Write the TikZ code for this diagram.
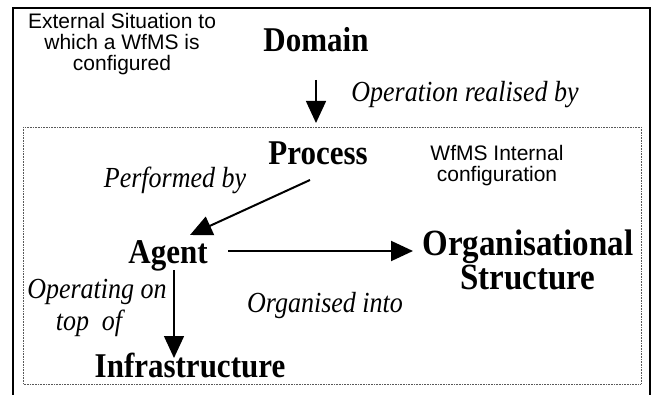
\documentclass[tikz,border=0pt]{standalone}
\usepackage{fontspec}
\usepackage{graphicx}
\setmainfont{Liberation Serif}
\newfontfamily\arialfont{Liberation Sans}
\usetikzlibrary{arrows.meta}
\newcommand{\vstretch}[1]{\scalebox{1}[1.12]{#1}}
\begin{document}
\begin{tikzpicture}[x=1pt,y=1pt,
  title/.style={font=\fontsize{31}{34}\selectfont\bfseries, inner sep=0pt, anchor=base},
  lbl/.style={font=\fontsize{26}{32}\selectfont\itshape, inner sep=0pt, anchor=base},
  note/.style={font=\arialfont\fontsize{21}{21}\selectfont, inner sep=0pt, align=center},
  arr/.style={line width=1.5pt, -{Triangle[width=20pt,length=22pt]}},
  frame/.style={line width=2pt, black},
  dotbox/.style={line width=0.8pt, draw=black!65, dash pattern=on 0.8pt off 0.8pt}
]
\useasboundingbox (0,0) rectangle (653,394);
% outer frame (open at the bottom, continues below the picture)
\draw[frame] (13,-10) -- (13,386) -- (650,386) -- (650,-10);
% inner dotted box
\draw[dotbox] (23,267) rectangle (641,10);

% texts
\node[note] (ext) at (122,350) {External Situation to\\which a WfMS is\\configured};
\node[title] (dom) at (316,342) {\vstretch{Domain}};
\node[lbl] (oper) at (465,292) {\vstretch{Operation realised by}};
\node[title] (proc) at (318,229) {\vstretch{Process}};
\node[note] (wfms) at (497,228) {WfMS Internal\\configuration};
\node[lbl] (perf) at (175,207) {\vstretch{Performed by}};
\node[title] (agent) at (168,131) {\vstretch{Agent}};
\node[title, anchor=center, align=center, font=\fontsize{33}{34}\selectfont\bfseries] (org) at (528,134) {\vstretch{Organisational}\\\vstretch{Structure}};
\node[lbl, align=center, anchor=center] (oper2) at (97,86) {\vstretch{Operating on}\\\vstretch{top\ \ of}\hspace*{16pt}\mbox{}};
\node[lbl] (orgi) at (325,82) {\vstretch{Organised into}};
\node[title] (infra) at (190,17) {\vstretch{Infrastructure}};

% connectors
\draw[arr] ([yshift=-28pt]dom.base) -- ([xshift=-2pt,yshift=42pt]proc.base);
\draw[arr, line width=2pt] ([xshift=-8pt,yshift=-15pt]proc.base) -- ([xshift=22pt,yshift=28pt]agent.base);
\draw[arr, line width=2pt] ([xshift=60pt,yshift=12pt]agent.base) -- ([xshift=-115pt,yshift=9pt]org.center);
\draw[arr] ([xshift=6pt,yshift=-7pt]agent.base) -- ([xshift=-16pt,yshift=19pt]infra.base);
\end{tikzpicture}
\end{document}
